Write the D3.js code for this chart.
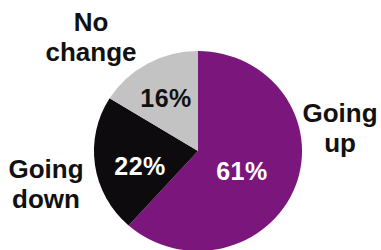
<!DOCTYPE html>
<html>
<head>
<meta charset="utf-8">
<script src="https://cdn.jsdelivr.net/npm/d3@7"></script>
<style>
  body { margin: 0; background: #fff; }
  text { font-family: "Liberation Sans", Arial, Helvetica, sans-serif; font-weight: bold; }
</style>
</head>
<body>
<div id="chart"></div>
<script>
// survey answers, clockwise from 12 o'clock
var categories = ["Going up", "Going down", "No change"];
var values = [61, 22, 16];
var pctLabels = ["61%", "22%", "16%"];
var nameLines = [["Going", "up"], ["Going", "down"], ["No", "change"]];

var width = 381, height = 250;
var cx = 198, cy = 151, radius = 102;

// where the texts sit, relative to the pie centre
var pctPos = [[44, 29], [-58, 24], [-32, -44]];
var namePos = [[142, -29], [-152, 27], [-107, -120]];

var color = d3.scaleOrdinal()
  .domain(categories)
  .range(["#7b167d", "#0d0b0d", "#c3c3c3"]);

var svg = d3.select("#chart").append("svg")
  .attr("width", width)
  .attr("height", height);

var g = svg.append("g")
  .attr("transform", "translate(" + cx + "," + cy + ")");

var pie = d3.pie().sort(null).value(function(d) { return d; });
var arc = d3.arc().innerRadius(0).outerRadius(radius);
var arcs = pie(values);

// the printed pie is a touch wider than tall
g.append("g")
  .attr("transform", "scale(1.02,0.98)")
  .selectAll("path")
  .data(arcs)
  .enter().append("path")
  .attr("fill", function(d, i) { return color(categories[i]); })
  .attr("d", arc);

g.selectAll(".pct")
  .data(arcs)
  .enter().append("text")
  .attr("class", "pct")
  .attr("x", function(d, i) { return pctPos[i][0]; })
  .attr("y", function(d, i) { return pctPos[i][1]; })
  .attr("text-anchor", "middle")
  .attr("font-size", 25)
  .attr("letter-spacing", 0.5)
  .attr("fill", function(d, i) { return i == 2 ? "#111" : "#fff"; })
  .text(function(d, i) { return pctLabels[i]; });

var names = g.selectAll(".name")
  .data(categories)
  .enter().append("text")
  .attr("class", "name")
  .attr("text-anchor", "middle")
  .attr("font-size", 26)
  .attr("fill", "#111")
  .attr("transform", function(d, i) {
    return "translate(" + namePos[i][0] + "," + namePos[i][1] + ")";
  });

names.selectAll("tspan")
  .data(function(d, i) { return nameLines[i]; })
  .enter().append("tspan")
  .attr("x", 0)
  .attr("dy", function(d, j) { return j ? 30 : 0; })
  .text(function(d) { return d; });
</script>
</body>
</html>
